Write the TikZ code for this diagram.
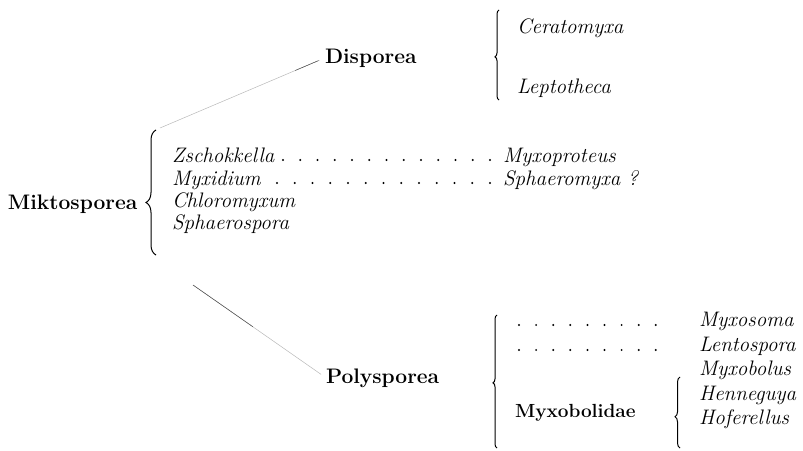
\documentclass[tikz,border=0pt]{standalone}
\usetikzlibrary{decorations.pathreplacing,calc}
\newcommand\itx{\fontsize{21}{24}\selectfont\itshape}
\newcommand\bfx{\fontsize{21}{24}\selectfont\bfseries}
\newcommand\bfy{\fontsize{19}{22}\selectfont\bfseries}
\tikzset{
  lbl/.style={anchor=base west,inner sep=0pt,outer sep=0pt},
  genus/.style={lbl,font=\itx},
  group/.style={lbl,font=\bfx},
  bracepath/.style={decorate,line width=1pt,decoration={brace,amplitude=#1}},
  faintline/.style={black!28,line width=0.5pt},
  darkline/.style={black!70,line width=0.5pt},
  leaderdot/.style={fill=black,inner sep=0pt,minimum size=2.2pt,circle}
}
\begin{document}
\begin{tikzpicture}[x=1pt,y=-1pt]
\useasboundingbox (0,0) rectangle (803,450);

% group labels
\node[group] (mik)  at (8,209)   {Miktosporea};
\node[group] (disp) at (325,63)  {Disporea};
\node[group] (poly) at (326,383) {Polysporea};
\node[lbl,font=\bfy] (myxbd) at (515,417) {Myxobolidae};

% Miktosporea genera
\node[genus] (zsch) at (172,162) {Zschokkella};
\node[genus] (myxi) at (172,185) {Myxidium};
\node[genus] (chlo) at (172,207) {Chloromyxum};
\node[genus] (spha) at (172,229) {Sphaerospora};
\node[genus] (myxop) at (503,162) {Myxoproteus};
\node[genus] (sphm)  at (503,185) {Sphaeromyxa ?};

% Disporea genera
\node[genus] (cera) at (517,33) {Ceratomyxa};
\node[genus] (lept) at (517,93) {Leptotheca};

% Polysporea genera
\node[genus] (myxs) at (699,326) {Myxosoma};
\node[genus] (lent) at (699,351) {Lentospora};
\node[genus] (myxb) at (699,375) {Myxobolus};
\node[genus] (henn) at (699,400) {Henneguya};
\node[genus] (hofe) at (699,424) {Hoferellus};

% braces
\draw[bracepath=10,decoration={aspect=0.42}] (156,255) -- (156,130);
\draw[bracepath=4,decoration={aspect=0.48}] (499,100) -- (499,10);
\draw[bracepath=4,decoration={aspect=0.49}] (497,448) -- (497,315);
\draw[bracepath=5,decoration={aspect=0.44}] (680,448) -- (680,377);

% leader dots
\foreach \i in {0,...,12} {
  \node[leaderdot] at (283+17.25*\i,160) {};
  \node[leaderdot] at (277+17.75*\i,183) {};
}
\foreach \i in {0,...,8} {
  \node[leaderdot] at (519+17.1*\i,325) {};
  \node[leaderdot] at (519+17.1*\i,350) {};
}

% connecting lines
\coordinate (l1a) at (160,128);
\coordinate (l2a) at (193,285);
\draw[faintline,shorten >=6pt] (l1a) -- (disp.west);
\draw[darkline] ($(l1a)!0.82!(disp.west)$) -- ($(l1a)!0.96!(disp.west)$);
\draw[faintline,shorten >=6pt] (l2a) -- (poly.west);
\draw[darkline] (l2a) -- ($(l2a)!0.45!(poly.west)$);
\end{tikzpicture}
\end{document}
